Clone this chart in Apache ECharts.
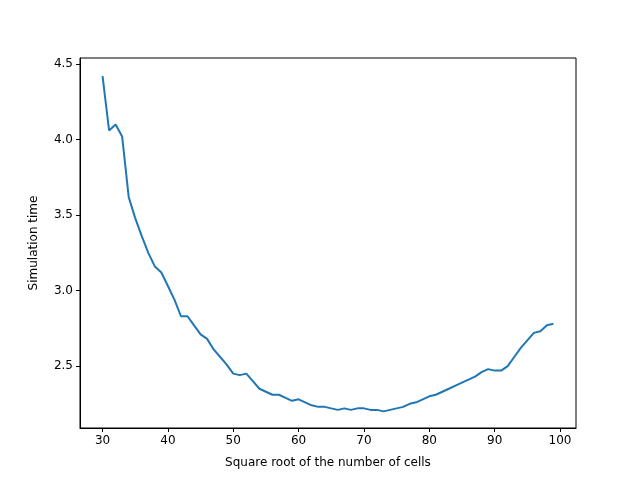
<!DOCTYPE html>
<html>
<head>
<meta charset="utf-8">
<script src="https://cdn.jsdelivr.net/npm/echarts@6/dist/echarts.min.js"></script>
<style>html,body{margin:0;padding:0;background:#fff}</style>
</head>
<body>
<div id="chart" style="width:640px;height:480px"></div>
<script>
// side length values (square root of number of cells)
const sizes = [];
for (let s = 30; s <= 99; s++) sizes.push(s);

const simTimes = [
  4.42, 4.06, 4.10, 4.02, 3.62, 3.48, 3.36, 3.25, 3.16, 3.12,
  3.03, 2.94, 2.83, 2.83, 2.77, 2.71, 2.68, 2.61, 2.56, 2.51,
  2.45, 2.44, 2.45, 2.40, 2.35, 2.33, 2.31, 2.31, 2.29, 2.27,
  2.28, 2.26, 2.24, 2.23, 2.23, 2.22, 2.21, 2.22, 2.21, 2.22,
  2.22, 2.21, 2.21, 2.20, 2.21, 2.22, 2.23, 2.25, 2.26, 2.28,
  2.30, 2.31, 2.33, 2.35, 2.37, 2.39, 2.41, 2.43, 2.46, 2.48,
  2.47, 2.47, 2.50, 2.56, 2.62, 2.67, 2.72, 2.73, 2.77, 2.78
];

const xTicks = [30, 40, 50, 60, 70, 80, 90, 100];
const yTicks = [2.5, 3.0, 3.5, 4.0, 4.5];

const chart = echarts.init(document.getElementById('chart'));
const axisFont = { fontFamily: 'DejaVu Sans', fontSize: 12, color: '#000' };

chart.setOption({
  animation: false,
  grid: { left: 80, right: 64, top: 58, bottom: 52, show: true, borderColor: '#000', borderWidth: 1 },
  xAxis: {
    type: 'value', min: 26.55, max: 102.45,
    name: 'Square root of the number of cells', nameLocation: 'center', nameGap: 29,
    nameTextStyle: { fontFamily: 'DejaVu Sans', fontSize: 12, color: '#000' },
    axisLine: { lineStyle: { color: '#000' } },
    axisTick: { show: true, length: 4, customValues: xTicks, lineStyle: { color: '#000' } },
    axisLabel: Object.assign({ customValues: xTicks, margin: 7 }, axisFont),
    splitLine: { show: false }
  },
  yAxis: {
    type: 'value', min: 2.09, max: 4.54,
    name: 'Simulation time', nameLocation: 'center', nameGap: 40,
    nameTextStyle: { fontFamily: 'DejaVu Sans', fontSize: 12, color: '#000' },
    axisLine: { show: true, lineStyle: { color: '#000' } },
    axisTick: { show: true, length: 4, customValues: yTicks, lineStyle: { color: '#000' } },
    axisLabel: Object.assign({ customValues: yTicks, margin: 7, formatter: v => v.toFixed(1) }, axisFont),
    splitLine: { show: false }
  },
  series: [{
    type: 'line',
    data: sizes.map((s, i) => [s, simTimes[i]]),
    showSymbol: false,
    lineStyle: { color: '#1f77b4', width: 2 }
  }]
});
</script>
</body>
</html>
